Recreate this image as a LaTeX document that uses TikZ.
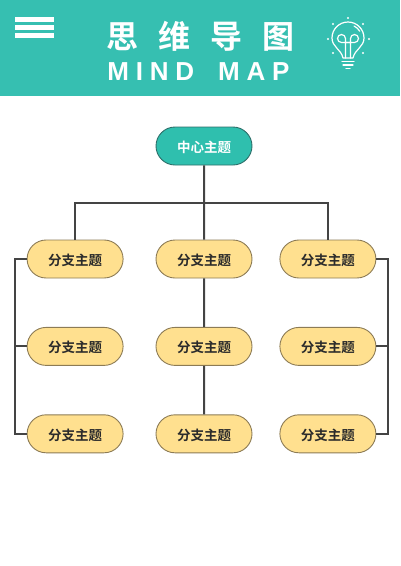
\documentclass[tikz,border=0pt]{standalone}
\usepackage{xcolor}
\usepackage{fontspec}
\usetikzlibrary{positioning, shapes.misc}
\setmainfont{Noto Sans}
\newfontfamily\cjkbold[BoldFont=Noto Sans CJK SC Bold]{Noto Sans CJK SC}
\newfontfamily\latinwide[LetterSpace=26]{Liberation Sans}
\definecolor{headerteal}{HTML}{36BFB1}
\definecolor{rootteal}{HTML}{2FBFAE}
\definecolor{branchyellow}{HTML}{FFE08F}
\definecolor{branchedge}{HTML}{8C7B55}
\definecolor{rootedge}{HTML}{2E6F6A}
\definecolor{linkgray}{HTML}{444444}
\definecolor{labelink}{HTML}{2B2B2B}

\begin{document}
\begin{tikzpicture}[
        x=1pt, y=-1pt,
        node distance=48.5pt and 33pt,
        topic/.style={rounded rectangle, draw, line width=0.9pt, align=center, minimum width=96pt, minimum height=38pt, inner sep=0pt, text height=13pt, text depth=0pt, font=\cjkbold\bfseries\fontsize{13.5pt}{16pt}\selectfont},
        root/.style={topic, fill=rootteal, draw=rootedge, text=white},
        branch/.style={topic, fill=branchyellow, draw=branchedge, text=labelink},
        link/.style={draw=linkgray, line width=2pt},
        icon/.style={draw=white, line width=1.2pt, line cap=round, line join=round},
        heading/.style={text=white, inner sep=0pt, anchor=center}
    ]
        \useasboundingbox (0,0) rectangle (400,566);
        % header band
        \fill[headerteal] (0,0) rectangle (400,96);
        \fill[white] (15,17) rectangle (54,21.5);
        \fill[white] (15,25) rectangle (54,29.5);
        \fill[white] (15,33) rectangle (54,38);
        \node[heading, font=\cjkbold\bfseries\fontsize{32pt}{36pt}\selectfont] (title) at (200.5,36) {思\hspace{20pt}维\hspace{20pt}导\hspace{20pt}图};
        \node[heading, font=\latinwide\bfseries\fontsize{26pt}{30pt}\selectfont] (subtitle) at (198.5,72) {MIND\hspace{24pt}MAP};
        % bulb
        \draw[icon] (343,58) .. controls (341,49) and (332,47) .. (332,38) arc[start angle=180, end angle=360, radius=16] .. controls (364,47) and (355,49) .. (353,58) -- cycle;
        \draw[icon] (345.5,58) -- (345.5,38.5) arc[start angle=0, end angle=-270, radius=4] -- (350.5,42.5);
        \draw[icon] (350.5,58) -- (350.5,38.5) arc[start angle=180, end angle=450, radius=4] -- (345.5,42.5);
        \draw[icon] (342,61.5) -- (354,61.5) (343,65) -- (353,65) (346,68.5) -- (350,68.5);
        \draw[icon] (354,26) arc[start angle=-65, end angle=-30, radius=13];
        \foreach \rayx/\rayy in {348/18, 333/24, 363/24, 328/39, 369/39, 333/53, 363/53}
            \fill[white] (\rayx,\rayy) circle[radius=1.2];

        % topics
        \node[root] (center) at (204,146) {中心主题};
        \node[branch] (midA) at (204,259) {分支主题};
        \node[branch, left=32pt of midA] (leftA) {分支主题};
        \node[branch, right=27pt of midA] (rightA) {分支主题};
        \node[branch, below=of leftA] (leftB) {分支主题};
        \node[branch, below=of midA] (midB) {分支主题};
        \node[branch, below=of rightA] (rightB) {分支主题};
        \node[branch, below=of leftB] (leftC) {分支主题};
        \node[branch, below=of midB] (midC) {分支主题};
        \node[branch, below=of rightB] (rightC) {分支主题};

        \coordinate (split) at (204,203);
        \coordinate (busL) at (15,346);
        \coordinate (busR) at (388,346);

        \draw[link] (center) -- (midA);
        \draw[link] (leftA.north) |- (split) -| (rightA.north);
        \draw[link] (midA) -- (midB);
        \draw[link] (midB) -- (midC);
        \draw[link] (leftA.west) -| (busL) |- (leftC.west);
        \draw[link] (leftB.west) -- (leftB.west -| busL);
        \draw[link] (rightA.east) -| (busR) |- (rightC.east);
        \draw[link] (rightB.east) -- (rightB.east -| busR);
    \end{tikzpicture}
\end{document}
